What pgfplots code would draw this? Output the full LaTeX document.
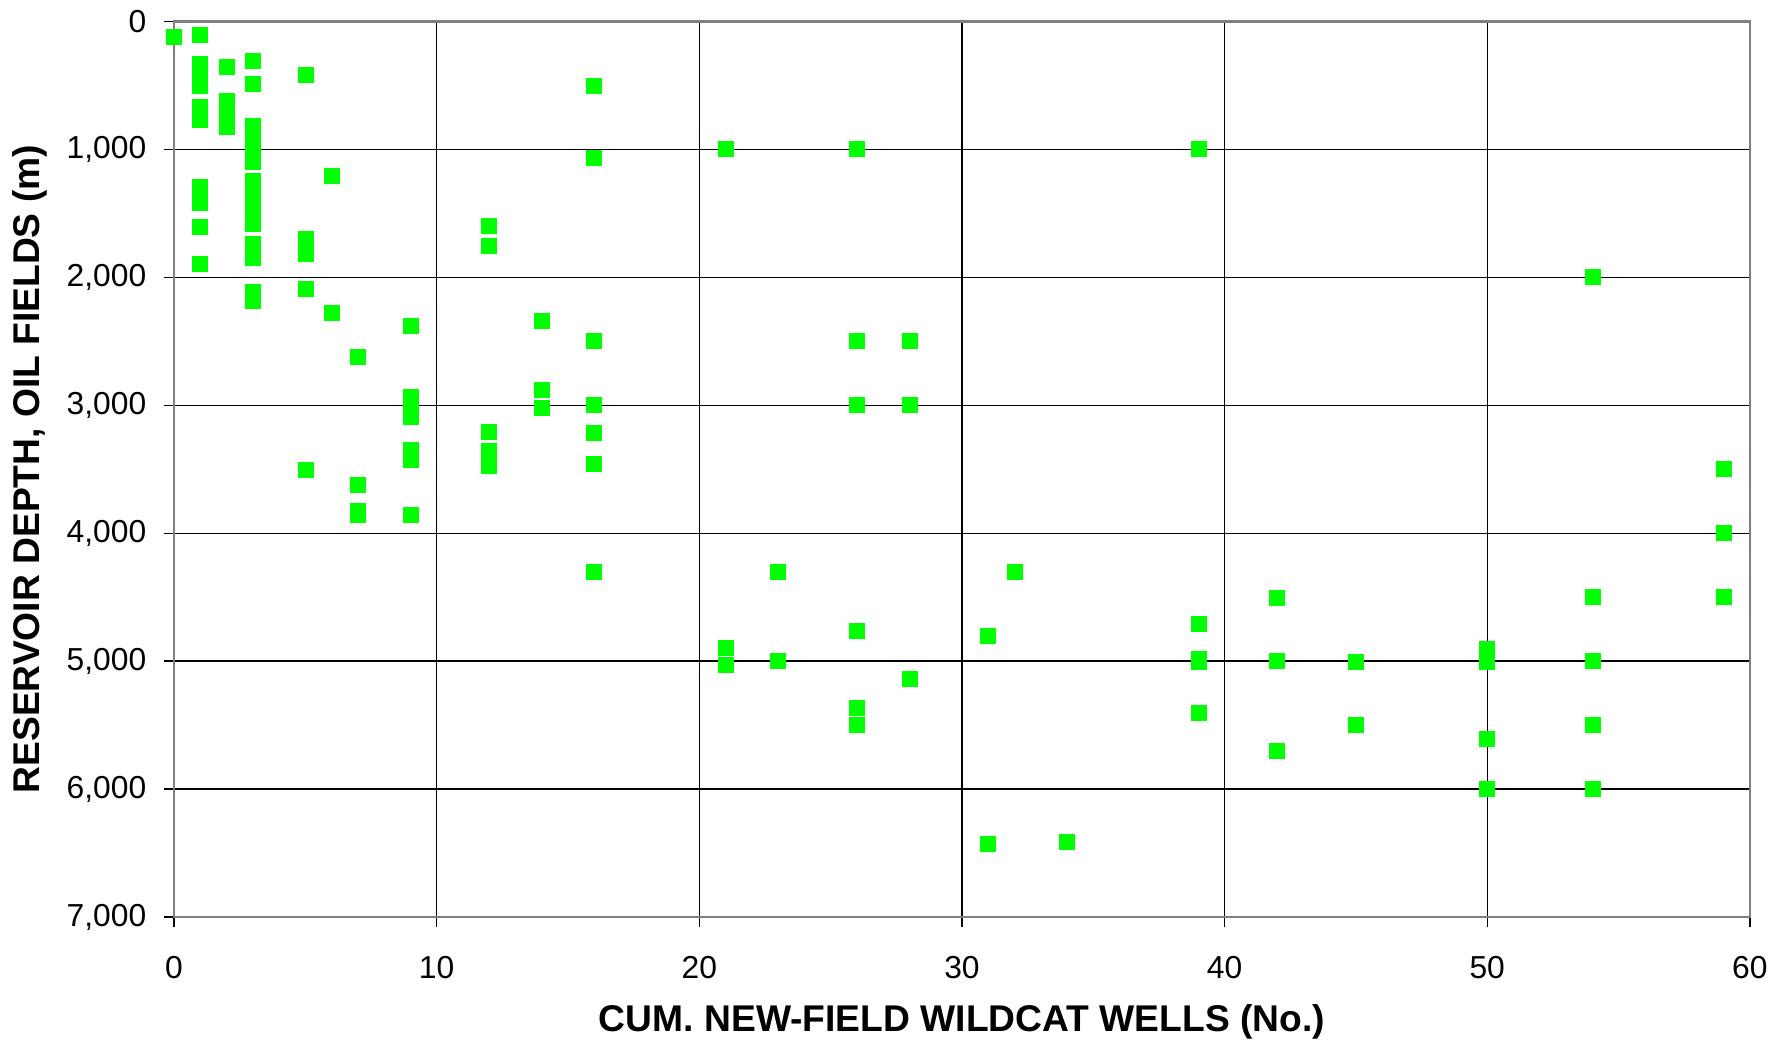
\documentclass[border=0pt]{standalone}
\usepackage{fontspec}
\setmainfont{Liberation Sans}
\usepackage{pgfplots}
\pgfplotsset{compat=1.18}
\definecolor{ptgreen}{RGB}{0,255,0}
\definecolor{framegray}{RGB}{128,128,128}
\begin{document}
\begin{tikzpicture}
\begin{axis}[
  scale only axis,
  width=525.3pt, height=298.6pt,
  xmin=0, xmax=60, ymin=0, ymax=7000,
  y dir=reverse,
  xtick={0,10,...,60},
  ytick={0,1000,...,7000},
  grid=major,
  major grid style={black, line width=0.45pt},
  axis line style={framegray, line width=0.9pt},
  tick align=outside,
  major tick length=3.4pt,
  tick style={black, line width=0.45pt},
  xtick pos=bottom, ytick pos=left,
  /pgf/number format/assume math mode=true,
  /pgf/number format/1000 sep={,},
  ticklabel style={font=\fontsize{10.6}{12}\selectfont},
  xticklabel style={yshift=-6pt},
  yticklabel style={xshift=-2.3pt},
  xlabel={CUM. NEW-FIELD WILDCAT WELLS (No.)},
  ylabel={RESERVOIR DEPTH, OIL FIELDS (m)},
  xlabel style={font=\fontsize{12.4}{14}\selectfont\bfseries, at={(axis description cs:0.5,0)}, anchor=center, yshift=-35pt},
  ylabel style={font=\fontsize{12.4}{14}\selectfont\bfseries, at={(axis description cs:0,0.5)}, anchor=center, yshift=48pt},
  clip=false,
]
\addplot[only marks, mark=square*, mark size=2.5pt, mark options={fill=ptgreen, draw=ptgreen, line width=0.2pt}] table {
x y
0 122
1 104
1 335
1 400
1 450
1 504
1 665
1 715
1 770
1 1290
1 1418
1 1608
1 1896
2 356
2 623
2 690
2 755
2 821
3 308
3 492
3 818
3 880
3 940
3 1000
3 1050
3 1101
3 1247
3 1320
3 1400
3 1470
3 1530
3 1584
3 1740
3 1800
3 1849
3 2114
3 2186
5 416
5 1696
5 1760
5 1818
5 2091
5 3501
6 1205
6 2279
7 2619
7 3621
7 3828
7 3856
9 2376
9 2932
9 2990
9 3040
9 3089
9 3352
9 3426
9 3854
12 1601
12 1757
12 3205
12 3354
12 3476
14 2342
14 2879
14 3022
16 500
16 1068
16 2498
16 2999
16 3218
16 3460
16 4300
21 1000
21 4898
21 5031
23 4299
23 5000
26 1000
26 2500
26 3000
26 4760
26 5362
26 5495
28 2500
28 3000
28 5141
31 4799
31 6426
32 4300
34 6408
39 1000
39 4707
39 4982
39 5008
39 5403
42 4507
42 5000
42 5704
45 5005
45 5501
50 4904
50 4950
50 5008
50 5603
50 6000
54 2000
54 4500
54 5000
54 5500
54 6000
59 3500
59 4000
59 4500
};
\end{axis}
\pgfresetboundingbox
\path (current axis.south west) ++(-58pt,-41.6pt) rectangle ++(592pt,347.3pt);
\end{tikzpicture}
\end{document}
